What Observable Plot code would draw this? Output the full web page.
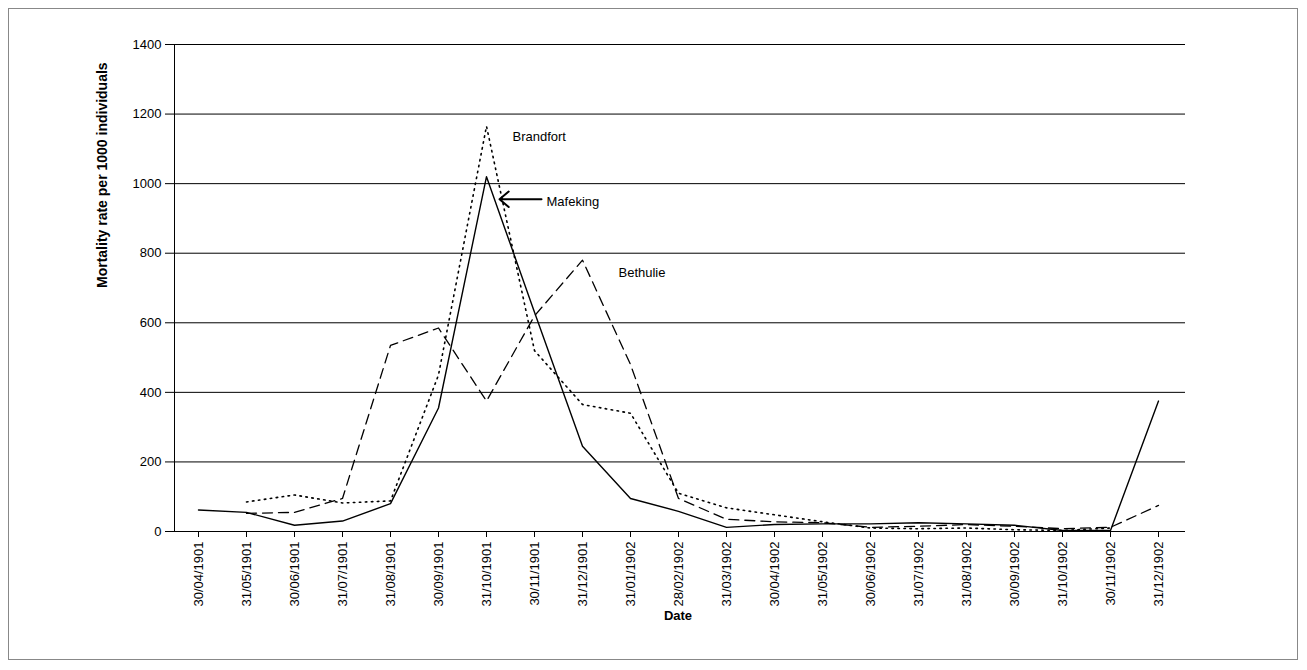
<!DOCTYPE html>
<html><head><meta charset="utf-8">
<script src="https://cdn.jsdelivr.net/npm/d3@7"></script>
<script src="https://cdn.jsdelivr.net/npm/@observablehq/plot@0.6"></script>
<style>
body{margin:0;background:#fff;font-family:Arial,"Liberation Sans",sans-serif}
#frame{position:absolute;left:8px;top:8px;width:1290px;height:652px;border:1px solid #888;box-sizing:border-box}
#chart{position:absolute;left:0;top:0}
</style></head><body>
<div id="frame"></div><div id="chart"></div>
<script>
const dates = ["30/04/1901","31/05/1901","30/06/1901","31/07/1901","31/08/1901","30/09/1901","31/10/1901","30/11/1901","31/12/1901","31/01/1902","28/02/1902","31/03/1902","30/04/1902","31/05/1902","30/06/1902","31/07/1902","31/08/1902","30/09/1902","31/10/1902","30/11/1902","31/12/1902"];
const mafeking = [62,55,18,30,80,355,1020,630,245,95,58,12,20,22,22,25,22,18,3,3,375];
const brandfort = [null,85,105,82,88,450,1165,520,365,340,110,68,48,28,10,8,10,5,3,10,null];
const bethulie = [null,52,55,95,535,585,375,620,780,480,95,35,28,25,12,15,20,15,8,12,75];

const toRows = vals => dates.map((d, i) => ({date: d, v: vals[i]})).filter(r => r.v != null);

const chart = Plot.plot({
  width: 1307, height: 670,
  marginLeft: 170, marginRight: 122, marginTop: 44, marginBottom: 139,
  style: {fontFamily: "Arial, 'Liberation Sans', sans-serif", fontSize: "13px", color: "#000"},
  x: {type: "point", domain: dates, padding: 0.5, label: null},
  y: {domain: [0, 1400], label: null},
  marks: [
    Plot.gridY(d3.range(200, 1401, 200), {stroke: "#000", strokeOpacity: 1, strokeWidth: 1}),
    Plot.axisX({tickRotate: -90, fontSize: 13, tickPadding: 4, tickSize: 6}),
    Plot.axisY({ticks: d3.range(0, 1401, 200), tickFormat: d => String(d), fontSize: 13, tickSize: 5}),
    Plot.line(toRows(bethulie), {x: "date", y: "v", stroke: "#000", strokeWidth: 1.3, strokeDasharray: "10,6"}),
    Plot.line(toRows(brandfort), {x: "date", y: "v", stroke: "#000", strokeWidth: 1.6, strokeDasharray: "1.5,4.5"}),
    Plot.line(toRows(mafeking), {x: "date", y: "v", stroke: "#000", strokeWidth: 1.4}),
    Plot.ruleY([0], {stroke: "#000"}),
    Plot.ruleX([dates[0]], {stroke: "#000", dx: -24}),
    Plot.text(["Brandfort"], {x: () => dates[7], y: () => 1135, text: d => d, textAnchor: "start", dx: -22, fontSize: 13}),
    Plot.text(["Mafeking"], {x: () => dates[7], y: () => 948, text: d => d, textAnchor: "start", dx: 12, fontSize: 13}),
    Plot.text(["Bethulie"], {x: () => dates[9], y: () => 745, text: d => d, textAnchor: "start", dx: -12, fontSize: 13}),
    Plot.arrow([0], {x1: () => dates[7], y1: () => 955, x2: () => dates[6], y2: () => 955, insetStart: -7, insetEnd: 13, stroke: "#000", strokeWidth: 2, headLength: 9, headAngle: 80}),
    Plot.text(["Mortality rate per 1000 individuals"], {frameAnchor: "left", rotate: -90, dx: -68, fontWeight: "bold", fontSize: 14}),
    Plot.text(["Date"], {frameAnchor: "bottom", dy: 88, fontWeight: "bold", fontSize: 13})
  ]
});
document.getElementById("chart").append(chart);
</script></body></html>
